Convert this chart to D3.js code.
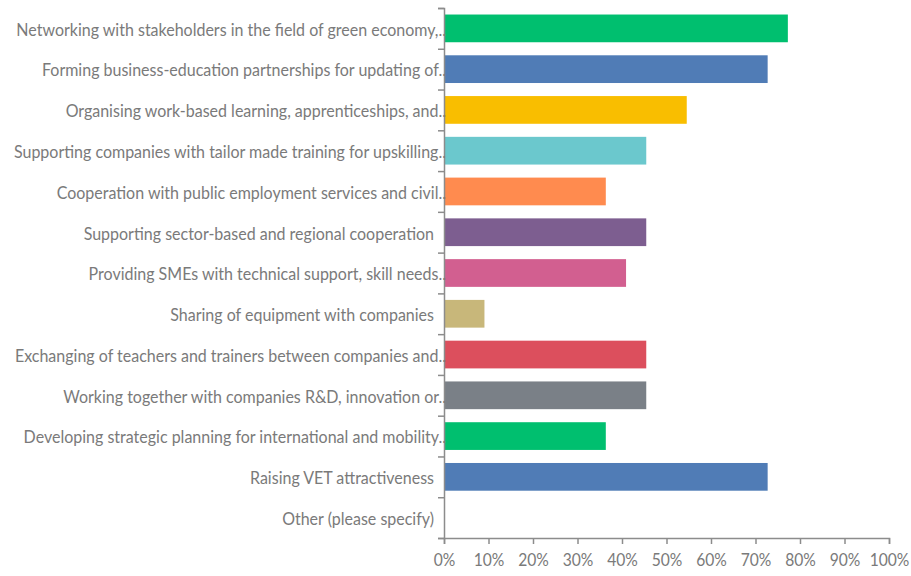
<!DOCTYPE html>
<html>
<head>
<meta charset="utf-8">
<script src="https://cdn.jsdelivr.net/npm/d3@7"></script>
<style>
  body { margin: 0; background: #fff; }
  svg text { font-family: Lato, "Open Sans", sans-serif; fill: #7a7a7a; }
</style>
</head>
<body>
<svg id="chart"></svg>
<script>
var w = 911;
var h = 576;

// answer labels as shown (long ones are cut off in the original)
var categories = [
  "Networking with stakeholders in the field of green economy,..",
  "Forming business-education partnerships for updating of..",
  "Organising work-based learning, apprenticeships, and..",
  "Supporting companies with tailor made training for upskilling..",
  "Cooperation with public employment services and civil..",
  "Supporting sector-based and regional cooperation",
  "Providing SMEs with technical support, skill needs..",
  "Sharing of equipment with companies",
  "Exchanging of teachers and trainers between companies and..",
  "Working together with companies R&D, innovation or..",
  "Developing strategic planning for international and mobility..",
  "Raising VET attractiveness",
  "Other (please specify)"
];
// share of respondents (%)
var values = [77.27, 72.73, 54.55, 45.45, 36.36, 45.45, 40.91, 9.09, 45.45, 45.45, 36.36, 72.73, 0];
var colors = ["#00bf6f", "#507cb6", "#f9be00", "#6bc8cd", "#ff8b4f", "#7d5e90", "#d25f90",
              "#c8b77a", "#dc4f5d", "#7a8087", "#00bf6f", "#507cb6", "#507cb6"];
var tick_values = [0, 10, 20, 30, 40, 50, 60, 70, 80, 90, 100];

var m_left = 444, m_right = 889, m_top = 8, m_bottom = 538;

var svg = d3.select("#chart").attr("width", w).attr("height", h);

var x = d3.scaleLinear().domain([0, 100]).range([m_left, m_right]);
var y = d3.scaleBand().domain(categories).range([m_top, m_bottom]).paddingInner(0.32).paddingOuter(0.16);
var yEdge = d3.scaleLinear().domain([0, categories.length]).range([m_top, m_bottom]);

// bars
svg.append("g").selectAll("rect")
   .data(values)
   .enter().append("rect")
   .attr("x", x(0) + 1)
   .attr("y", function(d, i){ return y(categories[i]); })
   .attr("width", function(d){ return Math.max(0, x(d) - x(0) - 1); })
   .attr("height", y.bandwidth())
   .attr("fill", function(d, i){ return colors[i]; });

// y axis with ticks on the band edges
var yAxis = svg.append("g")
   .attr("transform", "translate(" + m_left + ",0)")
   .call(d3.axisLeft(yEdge).tickValues(d3.range(categories.length + 1)).tickSize(6).tickFormat(""));
yAxis.select(".domain").attr("stroke", "#8c8c8c").attr("stroke-width", 1.5);
yAxis.selectAll(".tick line").attr("stroke", "#8c8c8c").attr("stroke-width", 1.5);

// category labels (narrowed a bit, the original font is condensed)
svg.append("g").selectAll("text")
   .data(categories)
   .enter().append("text")
   .attr("transform", function(d){
       var tx = d.slice(-2) == ".." ? m_left + 2 : m_left - 10;
       return "translate(" + tx + "," + (y(d) + y.bandwidth() / 2 + 1) + ") scale(0.89,1)";
   })
   .attr("dy", "0.35em")
   .attr("text-anchor", "end")
   .style("font-size", "18px")
   .text(function(d){ return d; });

// x axis
var xAxis = svg.append("g")
   .attr("transform", "translate(0," + m_bottom + ")")
   .call(d3.axisBottom(x).tickValues(tick_values).tickSize(6).tickPadding(10)
          .tickFormat(function(d){ return d + "%"; }));
xAxis.select(".domain").attr("stroke", "#8c8c8c").attr("stroke-width", 1.5);
xAxis.selectAll(".tick line").attr("stroke", "#8c8c8c").attr("stroke-width", 1.5);
xAxis.selectAll(".tick text").style("font-size", "17px").attr("fill", "#7a7a7a")
     .attr("transform", function(){ return "scale(0.92,1)"; });
</script>
</body>
</html>
